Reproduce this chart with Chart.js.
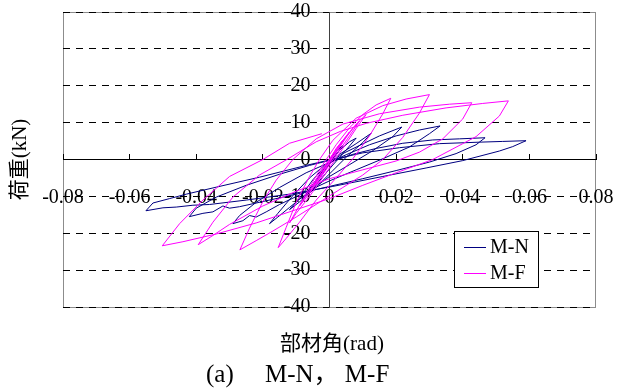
<!DOCTYPE html>
<html>
<head>
<meta charset="utf-8">
<script src="https://cdn.jsdelivr.net/npm/chart.js@4/dist/chart.umd.min.js"></script>
<style>
    html, body { margin: 0; padding: 0; background: #fff; }
</style>
</head>
<body>
<canvas id="chart" width="617" height="388"></canvas>
<script>
// 部材角 (rad) / 荷重 (kN)
const mnX = [0, 0.002, 0.004, 0.002, -0.001, -0.004, -0.006, -0.004, -0.001, 0.003, 0.006, 0.008, 0.005, 0.001, -0.004, -0.008, -0.006, -0.002, 0.003, 0.008, 0.0125, 0.010, 0.005, 0.001, -0.004, -0.009, -0.012, -0.009, -0.005, -0.001,
    0.004, 0.009, 0.015, 0.0217, 0.019, 0.013, 0.006, 0, -0.006, -0.012, -0.0155, -0.018, -0.0155, -0.011, -0.006, -0.001,
    0.005, 0.012, 0.020, 0.027, 0.0332, 0.030, 0.024, 0.016, 0.008, 0, -0.008, -0.015, -0.019, -0.022, -0.024, -0.026, -0.029, -0.027, -0.022, -0.015, -0.007, 0,
    0.007, 0.014, 0.022, 0.031, 0.039, 0.0467, 0.044, 0.038, 0.030, 0.020, 0.010, 0, -0.010, -0.019, -0.027, -0.030, -0.032, -0.035, -0.038, -0.0421, -0.040, -0.034, -0.025, -0.015, -0.006, 0.002,
    0.010, 0.021, 0.033, 0.045, 0.052, 0.059, 0.055, 0.051, 0.040, 0.029, 0.016, 0.001, -0.012, -0.025, -0.036, -0.041, -0.046, -0.050, -0.0551, -0.053, -0.048, -0.043, -0.034, -0.021, -0.007, 0.002];
const mnY = [0, 2.2, 3.8, 1.2, -2.5, -6, -8.2, -5.5, -1.8, 2.5, 4.8, 5.8, 2.6, -1.5, -6.8, -10.6, -8, -3, 1.4, 4.3, 7.1, 4.6, 0.6, -3, -7.5, -11.5, -13.6, -10.5, -5.5, -1.5,
    1.6, 3.8, 6.4, 8.8, 6.2, 2.4, -1.4, -4.6, -8.6, -13, -15.6, -17.4, -14.6, -9.8, -5, -1.2,
    1.3, 4, 6.4, 8, 9.1, 7, 3.4, 0.2, -2.8, -5.8, -9.2, -12.2, -14.2, -15.6, -15.2, -16.6, -17.4, -15.2, -11.6, -7.6, -3.6, -0.8,
    1.4, 3, 4.4, 5.3, 5.6, 5.9, 4, 1.6, -0.7, -3, -5.2, -7.3, -9.4, -11.2, -12.8, -13.2, -12.6, -14.2, -14.6, -15.5, -13.2, -10.2, -7, -4, -1.6, 0.2,
    1.8, 3.2, 4.3, 4.7, 4.9, 5.1, 3.5, 2.3, -0.3, -2.3, -4.6, -7.3, -9.4, -11, -12.2, -12.4, -12.9, -13.1, -13.9, -11.8, -10.6, -9.4, -7.5, -4.8, -1.6, 0.3];

const mfX = [0, 0.002, 0.004, 0.002, -0.001, -0.003, -0.005, -0.003, 0, 0.003, 0.006, 0.004, 0.001, -0.003, -0.006, -0.004, -0.001, 0.003, 0.007, 0.009, 0.006, 0.002, -0.003, -0.007, -0.009, -0.006, -0.002, 0.003, 0.008, 0.011, 0.008, 0.004, -0.001, -0.006, -0.010, -0.012, -0.009, -0.005, -0.002,
    0.002, 0.006, 0.010, 0.014, 0.0184, 0.016, 0.012, 0.007, 0.002, -0.004, -0.009, -0.013, -0.0154, -0.013, -0.010, -0.006, -0.003,
    0.001, 0.008, 0.016, 0.023, 0.030, 0.027, 0.022, 0.016, 0.010, 0.004, -0.003, -0.010, -0.017, -0.022, -0.0269, -0.024, -0.020, -0.016, -0.011,
    -0.004, 0.004, 0.015, 0.027, 0.036, 0.0427, 0.040, 0.034, 0.027, 0.020, 0.010, 0, -0.010, -0.020, -0.030, -0.035, -0.0394, -0.035, -0.029, -0.021, -0.0128,
    -0.004, 0.0032, 0.011, 0.022, 0.035, 0.046, 0.0537, 0.051, 0.044, 0.031, 0.020, 0.010, 0, -0.010, -0.022, -0.034, -0.044, -0.0502, -0.045, -0.038, -0.030, -0.020, -0.012, -0.0023];
const mfY = [0, 3, 5.2, 2, -2, -4.8, -7, -4, 0, 4, 7.5, 4.6, 0.5, -5, -9, -6.2, -1.8, 3.6, 8.4, 10.4, 6.4, 1.2, -5.4, -10.4, -12.6, -8.4, -2.4, 4, 9.6, 12.2, 8.4, 3, -3.6, -10, -14.6, -17.2, -12.4, -6, -1.4,
    4, 8.6, 12.2, 14.8, 16.6, 12.4, 6.4, 0.2, -5, -11, -17, -21.4, -23.9, -18.4, -11.6, -4.6, 0,
    5.2, 11.2, 14.6, 16.4, 17.6, 12.6, 6, 0, -4.2, -7.6, -11.6, -15.6, -19.4, -22, -24.5, -18.6, -11.4, -5.6, 0,
    5.6, 9.6, 12.4, 14.2, 15, 15.4, 11, 5.6, 2, -0.4, -2.8, -5.2, -8.6, -12.6, -17.6, -20.6, -23.1, -17, -10.2, -4.2, 0,
    4.8, 7.6, 9.8, 12, 14, 15.2, 15.9, 11.8, 6.2, 0, -3.6, -7, -10.6, -13.6, -17.2, -20.2, -22.3, -23.4, -17.4, -11, -4.6, 0, 4.4, 7];

const seriesNames = ['M-N', 'M-F'];
const xTitle = '部材角(rad)';
const yTitle = '荷重(kN)';
const caption = '(a)\u3000 M-N， M-F';

const serif = "'Liberation Serif', 'Noto Sans CJK JP', serif";
const clear = 'rgba(0,0,0,0)';

const toPoints = (xs, ys) => xs.map((x, i) => ({ x, y: ys[i] }));

// gray frame behind the grid, plus white background
const framePlugin = {
    id: 'frame',
    beforeDraw(chart) {
        const { ctx, chartArea: a } = chart;
        ctx.save();
        ctx.fillStyle = '#fff';
        ctx.fillRect(0, 0, chart.width, chart.height);
        ctx.strokeStyle = '#8c8c8c';
        ctx.lineWidth = 1;
        ctx.strokeRect(Math.round(a.left) + 0.5, Math.round(a.top) + 0.5, Math.round(a.right - a.left) - 1, Math.round(a.bottom - a.top));
        ctx.restore();
    }
};

// axis titles, caption and the boxed legend in the lower right
const textPlugin = {
    id: 'texts',
    afterDraw(chart) {
        const { ctx, chartArea: a } = chart;
        ctx.save();
        ctx.fillStyle = '#000';
        ctx.textBaseline = 'middle';

        ctx.font = `21px ${serif}`;
        ctx.textAlign = 'center';
        ctx.fillText(xTitle, 332, 344);

        ctx.save();
        ctx.translate(20, (a.top + a.bottom) / 2);
        ctx.rotate(-Math.PI / 2);
        ctx.fillText(yTitle, 0, 0);
        ctx.restore();

        ctx.font = `25px ${serif}`;
        ctx.textAlign = 'left';
        ctx.fillText(caption, 206, 375);

        // legend
        const bx = 454, by = 231, bw = 84, bh = 56;
        ctx.fillStyle = '#fff';
        ctx.fillRect(bx, by, bw, bh);
        ctx.strokeStyle = '#000';
        ctx.lineWidth = 1;
        ctx.strokeRect(bx + 0.5, by + 0.5, bw, bh);
        ctx.font = `20px ${serif}`;
        chart.data.datasets.forEach((ds, i) => {
            const ly = by + 16 + i * 26;
            ctx.strokeStyle = ds.borderColor;
            ctx.beginPath();
            ctx.moveTo(bx + 10, ly + 0.5);
            ctx.lineTo(bx + 32, ly + 0.5);
            ctx.stroke();
            ctx.fillStyle = '#000';
            ctx.fillText(ds.label, bx + 36, ly + 1);
        });
        ctx.restore();
    }
};

const ctx = document.getElementById('chart').getContext('2d');
new Chart(ctx, {
    type: 'scatter',
    data: {
        datasets: [
            {
                label: seriesNames[0],
                data: toPoints(mnX, mnY),
                showLine: true,
                borderColor: '#000080',
                borderWidth: 1,
                pointRadius: 0,
                order: 1
            },
            {
                label: seriesNames[1],
                data: toPoints(mfX, mfY),
                showLine: true,
                borderColor: '#ff00ff',
                borderWidth: 1,
                pointRadius: 0,
                order: 0
            }
        ]
    },
    options: {
        responsive: false,
        animation: false,
        devicePixelRatio: 1,
        layout: { padding: { left: 63, right: 21, top: 12, bottom: 81 } },
        plugins: {
            legend: { display: false },
            tooltip: { enabled: false }
        },
        scales: {
            // labels pushed down by an invisible tick, so no extra layout padding
            x: {
                type: 'linear',
                min: -0.08,
                max: 0.08,
                position: { y: 0 },
                ticks: {
                    stepSize: 0.02,
                    autoSkip: false,
                    maxRotation: 0,
                    padding: 0,
                    color: '#000',
                    font: { family: serif, size: 20 }
                },
                grid: { drawOnChartArea: false, tickLength: 26, tickColor: clear },
                border: { color: '#000', width: 1 }
            },
            // visible tick marks pointing up from the zero line
            xMarks: {
                type: 'linear',
                axis: 'x',
                min: -0.08,
                max: 0.08,
                position: { y: 0 },
                ticks: { display: false, stepSize: 0.02 },
                grid: { drawOnChartArea: false, tickLength: -6, tickColor: '#000' },
                border: { display: false }
            },
            // value labels and dashed grid; anchored a little left of the zero line
            y: {
                type: 'linear',
                min: -40,
                max: 40,
                position: { x: -0.0057 },
                ticks: {
                    stepSize: 10,
                    padding: 0,
                    color: '#000',
                    font: { family: serif, size: 20 }
                },
                grid: { color: '#000', drawTicks: false },
                border: { display: false, dash: [7, 6] }
            },
            // the vertical zero line itself
            yLine: {
                type: 'linear',
                axis: 'y',
                min: -40,
                max: 40,
                position: { x: 0 },
                ticks: { display: false },
                grid: { display: false },
                border: { color: '#404040', width: 1 }
            }
        }
    },
    plugins: [framePlugin, textPlugin]
});
</script>
</body>
</html>
